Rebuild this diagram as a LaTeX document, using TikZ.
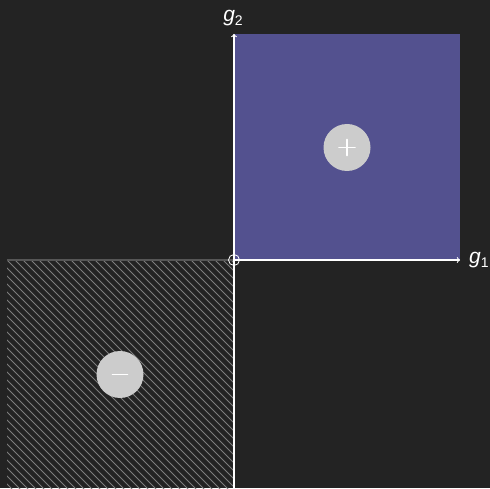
\documentclass[tikz,border=0pt]{standalone}
\usepackage{fontspec}
\setmainfont{Liberation Sans}
\definecolor{bgdark}{RGB}{35,35,35}
\definecolor{quadblue}{RGB}{83,81,143}
\definecolor{hatchgray}{RGB}{125,125,125}
\definecolor{discgray}{RGB}{204,204,204}
\tikzset{
  axis/.style={->, white, line width=1.1pt},
  sgndisc/.style={circle, fill=discgray, minimum size=47pt, inner sep=0pt},
  sgnline/.style={white, line width=1.8pt},
  axlbl/.style={white, inner sep=0pt, font=\fontsize{21}{24}\selectfont\itshape},
}
\newcommand{\axsub}[1]{\raisebox{-0.35ex}{\fontsize{14}{16}\selectfont\upshape #1}}
\begin{document}
\begin{tikzpicture}[x=1pt, y=1pt, line cap=round]
  \useasboundingbox[fill=bgdark] (0,0) rectangle (490,488);
  % --- reference points ---
  \coordinate (O) at (234,228);
  \coordinate (g1-end) at (460,228);
  \coordinate (g2-end) at (234,454);
  \coordinate (g2-start) at (234,0);
  \coordinate (neg-tl) at (7,228);
  \coordinate (neg-bl) at (7,0);

  % === positive quadrant ===
  \fill[quadblue] (O) rectangle (460,454);

  % === negative quadrant, hatched ===
  \begin{scope}
    \clip (neg-bl) rectangle (O);
    \foreach \i in {-232,-224,...,232}
      \draw[hatchgray, line width=0.9pt, line cap=butt] (7+\i,228) -- ++(240,-240);
  \end{scope}
  \draw[hatchgray!130, line width=1.5pt, line cap=butt] (neg-tl) -- (O);

  % === axes ===
  \draw[axis] (O) -- (g1-end);
  \draw[axis] (g2-start) -- (g2-end);
  \node[draw=white, line width=0.8pt, circle, minimum size=11pt, inner sep=0pt] (orig) at (O) {};
  \node[axlbl, anchor=west] (g1-lbl) at ([xshift=9pt]g1-end) {g\axsub{1}};
  \node[axlbl, anchor=south] (g2-lbl) at ([xshift=-1pt,yshift=8pt]g2-end) {g\axsub{2}};

  % === sign discs ===
  \node[sgndisc] (plus) at (347,340.5) {};
  \draw[sgnline] ([xshift=-8pt]plus.center) -- ([xshift=8pt]plus.center);
  \draw[sgnline] ([yshift=-8pt]plus.center) -- ([yshift=8pt]plus.center);
  \node[sgndisc] (minus) at (120,113.5) {};
  \draw[sgnline] ([xshift=-7.5pt]minus.center) -- ([xshift=7.5pt]minus.center);
\end{tikzpicture}
\end{document}
